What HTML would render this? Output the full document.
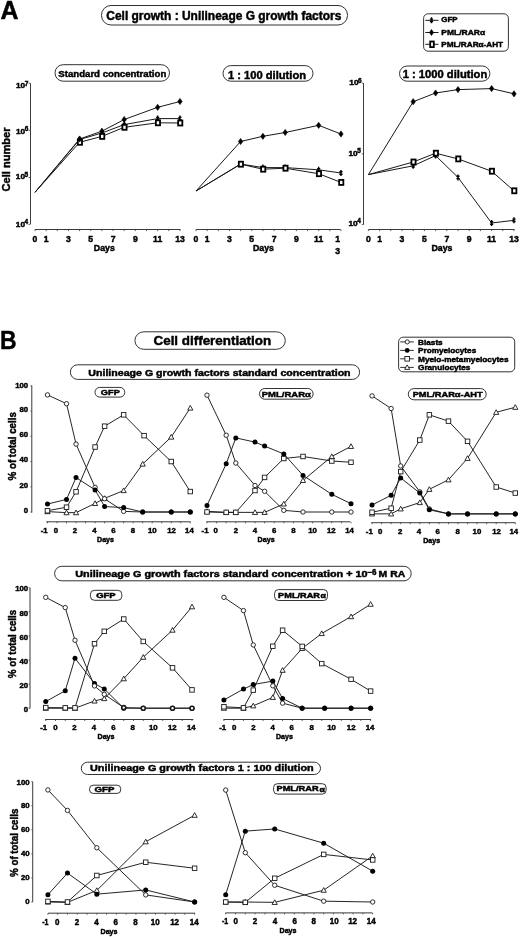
<!DOCTYPE html>
<html><head><meta charset="utf-8"><title>Figure</title>
<style>
html,body{margin:0;padding:0;background:#fff;}
body{width:520px;height:937px;overflow:hidden;}
svg{display:block;font-family:"Liberation Sans",sans-serif;}
text{stroke:#000;stroke-width:0.45px;}
</style></head><body>
<svg width="520" height="937" viewBox="0 0 520 937">
<defs><filter id="soft" x="-2%" y="-2%" width="104%" height="104%"><feGaussianBlur stdDeviation="0.3"/></filter></defs>
<rect width="520" height="937" fill="#fff"/>
<g fill="#000" stroke-width="0" filter="url(#soft)">
<text x="0.6" y="18.7" font-size="25" font-weight="bold" textLength="18" lengthAdjust="spacingAndGlyphs">A</text>
<rect x="101.5" y="5.5" width="246" height="19.5" rx="9.5" fill="#fff" stroke="#333" stroke-width="1"/>
<text x="106.3" y="20.2" font-size="12" font-weight="bold" textLength="235" lengthAdjust="spacingAndGlyphs">Cell growth : Unilineage G growth factors</text>
<rect x="423.6" y="13.8" width="84.8" height="37.4" rx="4.5" fill="#fff" stroke="#333" stroke-width="1"/>
<line x1="425.3" y1="20.3" x2="438.5" y2="20.3" stroke="#1a1a1a" stroke-width="1"/>
<path d="M431.5,17.3V23.3M429.9,19.1H433.1M429.9,21.5H433.1" stroke="#000" stroke-width="1.4" fill="none"/>
<text x="441.3" y="22.2" font-size="8" font-weight="bold" textLength="16.3" lengthAdjust="spacingAndGlyphs">GFP</text>
<line x1="425.3" y1="32.5" x2="438.5" y2="32.5" stroke="#1a1a1a" stroke-width="1"/>
<polygon points="431.5,29.5 433.6,32.5 431.5,35.5 429.4,32.5" fill="#000" stroke="#000" stroke-width="0.6" stroke-linejoin="round"/>
<text x="441.3" y="34.9" font-size="8" font-weight="bold" textLength="43.8" lengthAdjust="spacingAndGlyphs">PML/RAR&#945;</text>
<line x1="425.3" y1="44.3" x2="438.5" y2="44.3" stroke="#1a1a1a" stroke-width="1"/>
<rect x="430.2" y="41.5" width="3.6" height="5.6" fill="#fff" stroke="#000" stroke-width="1.8"/>
<text x="441.3" y="47" font-size="8" font-weight="bold" textLength="61.8" lengthAdjust="spacingAndGlyphs">PML/RAR&#945;-AHT</text>
<rect x="55" y="64.7" width="114.5" height="16.5" rx="8.2" fill="#fff" stroke="#333" stroke-width="1"/>
<text x="58.3" y="77" font-size="9.6" font-weight="bold" textLength="108" lengthAdjust="spacingAndGlyphs">Standard concentration</text>
<line x1="30.5" y1="83.2" x2="30.5" y2="224.4" stroke="#3a3a3a" stroke-width="1"/>
<line x1="28.5" y1="83.2" x2="30" y2="83.2" stroke="#3a3a3a" stroke-width="0.8"/>
<line x1="28.5" y1="130.3" x2="30" y2="130.3" stroke="#3a3a3a" stroke-width="0.8"/>
<line x1="28.5" y1="177.5" x2="30" y2="177.5" stroke="#3a3a3a" stroke-width="0.8"/>
<line x1="28.5" y1="224.4" x2="30" y2="224.4" stroke="#3a3a3a" stroke-width="0.8"/>
<text x="25.2" y="88.4" font-size="7.8" font-weight="bold" text-anchor="end" textLength="9.2" lengthAdjust="spacingAndGlyphs">10</text>
<text x="24.8" y="86" font-size="6.6" font-weight="bold" textLength="3.6" lengthAdjust="spacingAndGlyphs">7</text>
<text x="25.2" y="133.8" font-size="7.8" font-weight="bold" text-anchor="end" textLength="9.2" lengthAdjust="spacingAndGlyphs">10</text>
<text x="24.8" y="131.4" font-size="6.6" font-weight="bold" textLength="3.6" lengthAdjust="spacingAndGlyphs">6</text>
<text x="25" y="179.2" font-size="7.8" font-weight="bold" text-anchor="end" textLength="9.2" lengthAdjust="spacingAndGlyphs">10</text>
<text x="24.6" y="176.8" font-size="6.6" font-weight="bold" textLength="3.6" lengthAdjust="spacingAndGlyphs">5</text>
<text x="25" y="226.5" font-size="7.8" font-weight="bold" text-anchor="end" textLength="9.2" lengthAdjust="spacingAndGlyphs">10</text>
<text x="24.6" y="224.1" font-size="6.6" font-weight="bold" textLength="3.6" lengthAdjust="spacingAndGlyphs">4</text>
<text transform="translate(9.6,159.5) rotate(-90)" font-size="11" font-weight="bold" text-anchor="middle" textLength="64" lengthAdjust="spacingAndGlyphs">Cell number</text>
<line x1="35" y1="229.5" x2="180.4" y2="229.5" stroke="#3a3a3a" stroke-width="1"/>
<line x1="35" y1="229.5" x2="35" y2="231.1" stroke="#3a3a3a" stroke-width="0.8"/>
<line x1="46.15" y1="229.5" x2="46.15" y2="231.1" stroke="#3a3a3a" stroke-width="0.8"/>
<line x1="57.3" y1="229.5" x2="57.3" y2="231.1" stroke="#3a3a3a" stroke-width="0.8"/>
<line x1="68.45" y1="229.5" x2="68.45" y2="231.1" stroke="#3a3a3a" stroke-width="0.8"/>
<line x1="79.6" y1="229.5" x2="79.6" y2="231.1" stroke="#3a3a3a" stroke-width="0.8"/>
<line x1="90.75" y1="229.5" x2="90.75" y2="231.1" stroke="#3a3a3a" stroke-width="0.8"/>
<line x1="101.9" y1="229.5" x2="101.9" y2="231.1" stroke="#3a3a3a" stroke-width="0.8"/>
<line x1="113.05" y1="229.5" x2="113.05" y2="231.1" stroke="#3a3a3a" stroke-width="0.8"/>
<line x1="124.2" y1="229.5" x2="124.2" y2="231.1" stroke="#3a3a3a" stroke-width="0.8"/>
<line x1="135.35" y1="229.5" x2="135.35" y2="231.1" stroke="#3a3a3a" stroke-width="0.8"/>
<line x1="146.5" y1="229.5" x2="146.5" y2="231.1" stroke="#3a3a3a" stroke-width="0.8"/>
<line x1="157.65" y1="229.5" x2="157.65" y2="231.1" stroke="#3a3a3a" stroke-width="0.8"/>
<line x1="168.8" y1="229.5" x2="168.8" y2="231.1" stroke="#3a3a3a" stroke-width="0.8"/>
<line x1="179.95" y1="229.5" x2="179.95" y2="231.1" stroke="#3a3a3a" stroke-width="0.8"/>
<text x="35" y="242.2" font-size="8.6" font-weight="bold" text-anchor="middle">0</text>
<text x="46.15" y="242.2" font-size="8.6" font-weight="bold" text-anchor="middle">1</text>
<text x="68.45" y="242.2" font-size="8.6" font-weight="bold" text-anchor="middle">3</text>
<text x="90.75" y="242.2" font-size="8.6" font-weight="bold" text-anchor="middle">5</text>
<text x="113.05" y="242.2" font-size="8.6" font-weight="bold" text-anchor="middle">7</text>
<text x="135.35" y="242.2" font-size="8.6" font-weight="bold" text-anchor="middle">9</text>
<text x="157.65" y="242.2" font-size="8.6" font-weight="bold" text-anchor="middle">11</text>
<text x="179.95" y="242.2" font-size="8.6" font-weight="bold" text-anchor="middle">13</text>
<text x="104.3" y="251.3" font-size="8.8" font-weight="bold" text-anchor="middle" textLength="21" lengthAdjust="spacingAndGlyphs">Days</text>
<polyline points="35,192.3 79.6,139.5 101.9,133 124.2,124.6 157.65,118.6 179.95,118.6" fill="none" stroke="#1a1a1a" stroke-width="1" stroke-linejoin="round"/>
<polyline points="35,192.3 79.6,142.3 101.9,136.4 124.2,127.3 157.65,122.8 179.95,123" fill="none" stroke="#1a1a1a" stroke-width="1" stroke-linejoin="round"/>
<polyline points="35,192.3 79.6,139 101.9,131.2 124.2,119.5 157.65,107.3 179.95,101.5" fill="none" stroke="#1a1a1a" stroke-width="1" stroke-linejoin="round"/>
<path d="M79.6,136.5V142.5M78,138.3H81.2M78,140.7H81.2" stroke="#000" stroke-width="1.4" fill="none"/>
<path d="M101.9,130V136M100.3,131.8H103.5M100.3,134.2H103.5" stroke="#000" stroke-width="1.4" fill="none"/>
<path d="M124.2,121.6V127.6M122.6,123.4H125.8M122.6,125.8H125.8" stroke="#000" stroke-width="1.4" fill="none"/>
<path d="M157.65,115.6V121.6M156.05,117.4H159.25M156.05,119.8H159.25" stroke="#000" stroke-width="1.4" fill="none"/>
<path d="M179.95,115.6V121.6M178.35,117.4H181.55M178.35,119.8H181.55" stroke="#000" stroke-width="1.4" fill="none"/>
<rect x="77.8" y="139.8" width="4.2" height="5" fill="#fff" stroke="#000" stroke-width="1.8"/>
<rect x="100.1" y="133.9" width="4.2" height="5" fill="#fff" stroke="#000" stroke-width="1.8"/>
<rect x="122.4" y="124.8" width="4.2" height="5" fill="#fff" stroke="#000" stroke-width="1.8"/>
<rect x="155.85" y="120.3" width="4.2" height="5" fill="#fff" stroke="#000" stroke-width="1.8"/>
<rect x="178.15" y="120.5" width="4.2" height="5" fill="#fff" stroke="#000" stroke-width="1.8"/>
<polygon points="79.6,135.9 81.8,139 79.6,142.1 77.4,139" fill="#000" stroke="#000" stroke-width="0.6" stroke-linejoin="round"/>
<polygon points="101.9,128.1 104.1,131.2 101.9,134.3 99.7,131.2" fill="#000" stroke="#000" stroke-width="0.6" stroke-linejoin="round"/>
<polygon points="124.2,116.4 126.4,119.5 124.2,122.6 122,119.5" fill="#000" stroke="#000" stroke-width="0.6" stroke-linejoin="round"/>
<polygon points="157.65,104.2 159.85,107.3 157.65,110.4 155.45,107.3" fill="#000" stroke="#000" stroke-width="0.6" stroke-linejoin="round"/>
<polygon points="179.95,98.4 182.15,101.5 179.95,104.6 177.75,101.5" fill="#000" stroke="#000" stroke-width="0.6" stroke-linejoin="round"/>
<rect x="223" y="65.6" width="90" height="15.6" rx="7.8" fill="#fff" stroke="#333" stroke-width="1"/>
<text x="228" y="78.7" font-size="10.8" font-weight="bold" textLength="78" lengthAdjust="spacingAndGlyphs">1 : 100 dilution</text>
<line x1="196" y1="229.5" x2="340.5" y2="229.5" stroke="#3a3a3a" stroke-width="1"/>
<line x1="196" y1="229.5" x2="196" y2="231.1" stroke="#3a3a3a" stroke-width="0.8"/>
<line x1="207.15" y1="229.5" x2="207.15" y2="231.1" stroke="#3a3a3a" stroke-width="0.8"/>
<line x1="218.3" y1="229.5" x2="218.3" y2="231.1" stroke="#3a3a3a" stroke-width="0.8"/>
<line x1="229.45" y1="229.5" x2="229.45" y2="231.1" stroke="#3a3a3a" stroke-width="0.8"/>
<line x1="240.6" y1="229.5" x2="240.6" y2="231.1" stroke="#3a3a3a" stroke-width="0.8"/>
<line x1="251.75" y1="229.5" x2="251.75" y2="231.1" stroke="#3a3a3a" stroke-width="0.8"/>
<line x1="262.9" y1="229.5" x2="262.9" y2="231.1" stroke="#3a3a3a" stroke-width="0.8"/>
<line x1="274.05" y1="229.5" x2="274.05" y2="231.1" stroke="#3a3a3a" stroke-width="0.8"/>
<line x1="285.2" y1="229.5" x2="285.2" y2="231.1" stroke="#3a3a3a" stroke-width="0.8"/>
<line x1="296.35" y1="229.5" x2="296.35" y2="231.1" stroke="#3a3a3a" stroke-width="0.8"/>
<line x1="307.5" y1="229.5" x2="307.5" y2="231.1" stroke="#3a3a3a" stroke-width="0.8"/>
<line x1="318.65" y1="229.5" x2="318.65" y2="231.1" stroke="#3a3a3a" stroke-width="0.8"/>
<line x1="329.8" y1="229.5" x2="329.8" y2="231.1" stroke="#3a3a3a" stroke-width="0.8"/>
<line x1="340.95" y1="229.5" x2="340.95" y2="231.1" stroke="#3a3a3a" stroke-width="0.8"/>
<text x="196" y="242.2" font-size="8.6" font-weight="bold" text-anchor="middle">0</text>
<text x="207.15" y="242.2" font-size="8.6" font-weight="bold" text-anchor="middle">1</text>
<text x="229.45" y="242.2" font-size="8.6" font-weight="bold" text-anchor="middle">3</text>
<text x="251.75" y="242.2" font-size="8.6" font-weight="bold" text-anchor="middle">5</text>
<text x="274.05" y="242.2" font-size="8.6" font-weight="bold" text-anchor="middle">7</text>
<text x="296.35" y="242.2" font-size="8.6" font-weight="bold" text-anchor="middle">9</text>
<text x="318.65" y="242.2" font-size="8.6" font-weight="bold" text-anchor="middle">11</text>
<text x="337.6" y="242.2" font-size="8.6" font-weight="bold" text-anchor="middle">1</text>
<text x="337.6" y="253.5" font-size="8.6" font-weight="bold" text-anchor="middle">3</text>
<text x="263.5" y="250.5" font-size="8.8" font-weight="bold" text-anchor="middle" textLength="21" lengthAdjust="spacingAndGlyphs">Days</text>
<polyline points="196,191 240.6,164 262.9,167.6 285.2,167.6 318.65,169.8 340.95,173" fill="none" stroke="#1a1a1a" stroke-width="1" stroke-linejoin="round"/>
<polyline points="196,191 240.6,164.2 262.9,169.2 285.2,168.2 318.65,173.7 340.95,182.4" fill="none" stroke="#1a1a1a" stroke-width="1" stroke-linejoin="round"/>
<polyline points="196,191 240.6,141.5 262.9,136.3 285.2,132.5 318.65,125.3 340.95,134" fill="none" stroke="#1a1a1a" stroke-width="1" stroke-linejoin="round"/>
<path d="M240.6,161V167M239,162.8H242.2M239,165.2H242.2" stroke="#000" stroke-width="1.4" fill="none"/>
<path d="M262.9,164.6V170.6M261.3,166.4H264.5M261.3,168.8H264.5" stroke="#000" stroke-width="1.4" fill="none"/>
<path d="M285.2,164.6V170.6M283.6,166.4H286.8M283.6,168.8H286.8" stroke="#000" stroke-width="1.4" fill="none"/>
<path d="M318.65,166.8V172.8M317.05,168.6H320.25M317.05,171H320.25" stroke="#000" stroke-width="1.4" fill="none"/>
<path d="M340.95,170V176M339.35,171.8H342.55M339.35,174.2H342.55" stroke="#000" stroke-width="1.4" fill="none"/>
<rect x="238.8" y="161.7" width="4.2" height="5" fill="#fff" stroke="#000" stroke-width="1.8"/>
<rect x="261.1" y="166.7" width="4.2" height="5" fill="#fff" stroke="#000" stroke-width="1.8"/>
<rect x="283.4" y="165.7" width="4.2" height="5" fill="#fff" stroke="#000" stroke-width="1.8"/>
<rect x="316.85" y="171.2" width="4.2" height="5" fill="#fff" stroke="#000" stroke-width="1.8"/>
<rect x="339.15" y="179.9" width="4.2" height="5" fill="#fff" stroke="#000" stroke-width="1.8"/>
<polygon points="240.6,138.4 242.8,141.5 240.6,144.6 238.4,141.5" fill="#000" stroke="#000" stroke-width="0.6" stroke-linejoin="round"/>
<polygon points="262.9,133.2 265.1,136.3 262.9,139.4 260.7,136.3" fill="#000" stroke="#000" stroke-width="0.6" stroke-linejoin="round"/>
<polygon points="285.2,129.4 287.4,132.5 285.2,135.6 283,132.5" fill="#000" stroke="#000" stroke-width="0.6" stroke-linejoin="round"/>
<polygon points="318.65,122.2 320.85,125.3 318.65,128.4 316.45,125.3" fill="#000" stroke="#000" stroke-width="0.6" stroke-linejoin="round"/>
<polygon points="340.95,130.9 343.15,134 340.95,137.1 338.75,134" fill="#000" stroke="#000" stroke-width="0.6" stroke-linejoin="round"/>
<rect x="399.5" y="66" width="90.4" height="15.2" rx="7.6" fill="#fff" stroke="#333" stroke-width="1"/>
<text x="402.7" y="78" font-size="10.7" font-weight="bold" textLength="84.6" lengthAdjust="spacingAndGlyphs">1 : 1000 dilution</text>
<line x1="363.5" y1="83.1" x2="363.5" y2="224.6" stroke="#3a3a3a" stroke-width="1"/>
<line x1="361.8" y1="83.1" x2="363.3" y2="83.1" stroke="#3a3a3a" stroke-width="0.8"/>
<line x1="361.8" y1="153.9" x2="363.3" y2="153.9" stroke="#3a3a3a" stroke-width="0.8"/>
<line x1="361.8" y1="224.5" x2="363.3" y2="224.5" stroke="#3a3a3a" stroke-width="0.8"/>
<text x="358.5" y="85.4" font-size="7.8" font-weight="bold" text-anchor="end" textLength="9.2" lengthAdjust="spacingAndGlyphs">10</text>
<text x="358.1" y="83" font-size="6.6" font-weight="bold" textLength="3.6" lengthAdjust="spacingAndGlyphs">6</text>
<text x="357.6" y="155.8" font-size="7.8" font-weight="bold" text-anchor="end" textLength="9.2" lengthAdjust="spacingAndGlyphs">10</text>
<text x="357.2" y="153.4" font-size="6.6" font-weight="bold" textLength="3.6" lengthAdjust="spacingAndGlyphs">5</text>
<text x="357.6" y="225.7" font-size="7.8" font-weight="bold" text-anchor="end" textLength="9.2" lengthAdjust="spacingAndGlyphs">10</text>
<text x="357.2" y="223.3" font-size="6.6" font-weight="bold" textLength="3.6" lengthAdjust="spacingAndGlyphs">4</text>
<line x1="368.4" y1="229.5" x2="514.5" y2="229.5" stroke="#3a3a3a" stroke-width="1"/>
<line x1="368.4" y1="229.5" x2="368.4" y2="231.1" stroke="#3a3a3a" stroke-width="0.8"/>
<line x1="379.6" y1="229.5" x2="379.6" y2="231.1" stroke="#3a3a3a" stroke-width="0.8"/>
<line x1="390.8" y1="229.5" x2="390.8" y2="231.1" stroke="#3a3a3a" stroke-width="0.8"/>
<line x1="402" y1="229.5" x2="402" y2="231.1" stroke="#3a3a3a" stroke-width="0.8"/>
<line x1="413.2" y1="229.5" x2="413.2" y2="231.1" stroke="#3a3a3a" stroke-width="0.8"/>
<line x1="424.4" y1="229.5" x2="424.4" y2="231.1" stroke="#3a3a3a" stroke-width="0.8"/>
<line x1="435.6" y1="229.5" x2="435.6" y2="231.1" stroke="#3a3a3a" stroke-width="0.8"/>
<line x1="446.8" y1="229.5" x2="446.8" y2="231.1" stroke="#3a3a3a" stroke-width="0.8"/>
<line x1="458" y1="229.5" x2="458" y2="231.1" stroke="#3a3a3a" stroke-width="0.8"/>
<line x1="469.2" y1="229.5" x2="469.2" y2="231.1" stroke="#3a3a3a" stroke-width="0.8"/>
<line x1="480.4" y1="229.5" x2="480.4" y2="231.1" stroke="#3a3a3a" stroke-width="0.8"/>
<line x1="491.6" y1="229.5" x2="491.6" y2="231.1" stroke="#3a3a3a" stroke-width="0.8"/>
<line x1="502.8" y1="229.5" x2="502.8" y2="231.1" stroke="#3a3a3a" stroke-width="0.8"/>
<line x1="514" y1="229.5" x2="514" y2="231.1" stroke="#3a3a3a" stroke-width="0.8"/>
<text x="368.4" y="242.2" font-size="8.6" font-weight="bold" text-anchor="middle">0</text>
<text x="379.6" y="242.2" font-size="8.6" font-weight="bold" text-anchor="middle">1</text>
<text x="402" y="242.2" font-size="8.6" font-weight="bold" text-anchor="middle">3</text>
<text x="424.4" y="242.2" font-size="8.6" font-weight="bold" text-anchor="middle">5</text>
<text x="446.8" y="242.2" font-size="8.6" font-weight="bold" text-anchor="middle">7</text>
<text x="469.2" y="242.2" font-size="8.6" font-weight="bold" text-anchor="middle">9</text>
<text x="491.6" y="242.2" font-size="8.6" font-weight="bold" text-anchor="middle">11</text>
<text x="514" y="242.2" font-size="8.6" font-weight="bold" text-anchor="middle">13</text>
<text x="442" y="250.8" font-size="8.8" font-weight="bold" text-anchor="middle" textLength="21" lengthAdjust="spacingAndGlyphs">Days</text>
<polyline points="368.4,174.6 413.2,165.8 435.6,155.6 458,177.4 491.6,223 514,220.3" fill="none" stroke="#1a1a1a" stroke-width="1" stroke-linejoin="round"/>
<polyline points="368.4,174.6 413.2,162 435.6,153.2 458,158.9 491.6,171.2 514,190.8" fill="none" stroke="#1a1a1a" stroke-width="1" stroke-linejoin="round"/>
<polyline points="368.4,174.6 413.2,101.7 435.6,93 458,89.6 491.6,88.6 514,93.8" fill="none" stroke="#1a1a1a" stroke-width="1" stroke-linejoin="round"/>
<path d="M413.2,162.8V168.8M411.6,164.6H414.8M411.6,167H414.8" stroke="#000" stroke-width="1.4" fill="none"/>
<path d="M435.6,152.6V158.6M434,154.4H437.2M434,156.8H437.2" stroke="#000" stroke-width="1.4" fill="none"/>
<path d="M458,174.4V180.4M456.4,176.2H459.6M456.4,178.6H459.6" stroke="#000" stroke-width="1.4" fill="none"/>
<path d="M491.6,220V226M490,221.8H493.2M490,224.2H493.2" stroke="#000" stroke-width="1.4" fill="none"/>
<path d="M514,217.3V223.3M512.4,219.1H515.6M512.4,221.5H515.6" stroke="#000" stroke-width="1.4" fill="none"/>
<rect x="411.4" y="159.5" width="4.2" height="5" fill="#fff" stroke="#000" stroke-width="1.8"/>
<rect x="433.8" y="150.7" width="4.2" height="5" fill="#fff" stroke="#000" stroke-width="1.8"/>
<rect x="456.2" y="156.4" width="4.2" height="5" fill="#fff" stroke="#000" stroke-width="1.8"/>
<rect x="489.8" y="168.7" width="4.2" height="5" fill="#fff" stroke="#000" stroke-width="1.8"/>
<rect x="512.2" y="188.3" width="4.2" height="5" fill="#fff" stroke="#000" stroke-width="1.8"/>
<polygon points="413.2,98.6 415.4,101.7 413.2,104.8 411,101.7" fill="#000" stroke="#000" stroke-width="0.6" stroke-linejoin="round"/>
<polygon points="435.6,89.9 437.8,93 435.6,96.1 433.4,93" fill="#000" stroke="#000" stroke-width="0.6" stroke-linejoin="round"/>
<polygon points="458,86.5 460.2,89.6 458,92.7 455.8,89.6" fill="#000" stroke="#000" stroke-width="0.6" stroke-linejoin="round"/>
<polygon points="491.6,85.5 493.8,88.6 491.6,91.7 489.4,88.6" fill="#000" stroke="#000" stroke-width="0.6" stroke-linejoin="round"/>
<polygon points="514,90.7 516.2,93.8 514,96.9 511.8,93.8" fill="#000" stroke="#000" stroke-width="0.6" stroke-linejoin="round"/>
<text x="0" y="348.9" font-size="25.5" font-weight="bold" textLength="16.6" lengthAdjust="spacingAndGlyphs">B</text>
<rect x="134.9" y="331.8" width="150.4" height="17.5" rx="9" fill="#fff" stroke="#333" stroke-width="1"/>
<text x="153.5" y="345.3" font-size="12.4" font-weight="bold" textLength="117.7" lengthAdjust="spacingAndGlyphs">Cell differentiation</text>
<rect x="398.6" y="337.2" width="116.1" height="34.6" rx="4.5" fill="#fff" stroke="#333" stroke-width="1"/>
<line x1="400.2" y1="341.9" x2="413.8" y2="341.9" stroke="#1a1a1a" stroke-width="0.9"/>
<circle cx="407.2" cy="341.9" r="2.1" fill="#fff" stroke="#1a1a1a" stroke-width="0.9"/>
<text x="418" y="344.9" font-size="7.6" font-weight="bold" textLength="24.7" lengthAdjust="spacingAndGlyphs">Blasts</text>
<line x1="400.2" y1="350.4" x2="413.8" y2="350.4" stroke="#1a1a1a" stroke-width="0.9"/>
<circle cx="407.2" cy="350.4" r="2.4" fill="#000"/>
<text x="418" y="353" font-size="7.6" font-weight="bold" textLength="58.2" lengthAdjust="spacingAndGlyphs">Promyelocytes</text>
<line x1="400.2" y1="358.8" x2="413.8" y2="358.8" stroke="#1a1a1a" stroke-width="0.9"/>
<rect x="404.9" y="356.5" width="4.6" height="4.6" fill="#fff" stroke="#1a1a1a" stroke-width="0.9"/>
<text x="418" y="362" font-size="7.6" font-weight="bold" textLength="90.5" lengthAdjust="spacingAndGlyphs">Myelo-metamyelocytes</text>
<line x1="400.2" y1="367.4" x2="413.8" y2="367.4" stroke="#1a1a1a" stroke-width="0.9"/>
<polygon points="407.2,364.9 409.7,369.4 404.7,369.4" fill="#fff" stroke="#1a1a1a" stroke-width="0.9"/>
<text x="418" y="370.3" font-size="7.6" font-weight="bold" textLength="52.4" lengthAdjust="spacingAndGlyphs">Granulocytes</text>
<rect x="70.4" y="364.8" width="289.2" height="14.6" rx="7.2" fill="#fff" stroke="#333" stroke-width="1"/>
<text x="88.3" y="375.9" font-size="9.3" font-weight="bold" textLength="262.3" lengthAdjust="spacingAndGlyphs">Unilineage G growth factors standard concentration</text>
<line x1="31.8" y1="385.5" x2="31.8" y2="512.6" stroke="#3a3a3a" stroke-width="1"/>
<line x1="30.4" y1="385.8" x2="31.8" y2="385.8" stroke="#3a3a3a" stroke-width="0.8"/>
<line x1="30.4" y1="411.04" x2="31.8" y2="411.04" stroke="#3a3a3a" stroke-width="0.8"/>
<line x1="30.4" y1="436.28" x2="31.8" y2="436.28" stroke="#3a3a3a" stroke-width="0.8"/>
<line x1="30.4" y1="461.52" x2="31.8" y2="461.52" stroke="#3a3a3a" stroke-width="0.8"/>
<line x1="30.4" y1="486.76" x2="31.8" y2="486.76" stroke="#3a3a3a" stroke-width="0.8"/>
<line x1="30.4" y1="512" x2="31.8" y2="512" stroke="#3a3a3a" stroke-width="0.8"/>
<text x="28.2" y="387.8" font-size="7.8" font-weight="bold" text-anchor="end">100</text>
<text x="28.2" y="411.8" font-size="7.8" font-weight="bold" text-anchor="end">80</text>
<text x="28.2" y="437" font-size="7.8" font-weight="bold" text-anchor="end">60</text>
<text x="28.2" y="462.3" font-size="7.8" font-weight="bold" text-anchor="end">40</text>
<text x="28.2" y="487.5" font-size="7.8" font-weight="bold" text-anchor="end">20</text>
<text x="28.2" y="512.8" font-size="7.8" font-weight="bold" text-anchor="end">0</text>
<text transform="translate(15.6,446.3) rotate(-90)" font-size="10.4" font-weight="bold" text-anchor="middle" textLength="68.3" lengthAdjust="spacingAndGlyphs">% of total cells</text>
<rect x="95" y="387.4" width="29.8" height="9.7" rx="4.8" fill="#fff" stroke="#333" stroke-width="1"/>
<text x="100.8" y="394.9" font-size="8" font-weight="bold" textLength="19" lengthAdjust="spacingAndGlyphs">GFP</text>
<line x1="46.3" y1="521.8" x2="190.6" y2="521.8" stroke="#3a3a3a" stroke-width="1"/>
<line x1="47.48" y1="521.8" x2="47.48" y2="523.3" stroke="#3a3a3a" stroke-width="0.8"/>
<line x1="57" y1="521.8" x2="57" y2="523.3" stroke="#3a3a3a" stroke-width="0.8"/>
<line x1="66.52" y1="521.8" x2="66.52" y2="523.3" stroke="#3a3a3a" stroke-width="0.8"/>
<line x1="76.04" y1="521.8" x2="76.04" y2="523.3" stroke="#3a3a3a" stroke-width="0.8"/>
<line x1="85.56" y1="521.8" x2="85.56" y2="523.3" stroke="#3a3a3a" stroke-width="0.8"/>
<line x1="95.08" y1="521.8" x2="95.08" y2="523.3" stroke="#3a3a3a" stroke-width="0.8"/>
<line x1="104.6" y1="521.8" x2="104.6" y2="523.3" stroke="#3a3a3a" stroke-width="0.8"/>
<line x1="114.12" y1="521.8" x2="114.12" y2="523.3" stroke="#3a3a3a" stroke-width="0.8"/>
<line x1="123.64" y1="521.8" x2="123.64" y2="523.3" stroke="#3a3a3a" stroke-width="0.8"/>
<line x1="133.16" y1="521.8" x2="133.16" y2="523.3" stroke="#3a3a3a" stroke-width="0.8"/>
<line x1="142.68" y1="521.8" x2="142.68" y2="523.3" stroke="#3a3a3a" stroke-width="0.8"/>
<line x1="152.2" y1="521.8" x2="152.2" y2="523.3" stroke="#3a3a3a" stroke-width="0.8"/>
<line x1="161.72" y1="521.8" x2="161.72" y2="523.3" stroke="#3a3a3a" stroke-width="0.8"/>
<line x1="171.24" y1="521.8" x2="171.24" y2="523.3" stroke="#3a3a3a" stroke-width="0.8"/>
<line x1="180.76" y1="521.8" x2="180.76" y2="523.3" stroke="#3a3a3a" stroke-width="0.8"/>
<line x1="190.28" y1="521.8" x2="190.28" y2="523.3" stroke="#3a3a3a" stroke-width="0.8"/>
<text x="44.2" y="532.8" font-size="7.8" font-weight="bold" text-anchor="middle">-1</text>
<text x="55.9" y="532.8" font-size="7.8" font-weight="bold" text-anchor="middle">0</text>
<text x="74.9" y="532.8" font-size="7.8" font-weight="bold" text-anchor="middle">2</text>
<text x="94.3" y="532.8" font-size="7.8" font-weight="bold" text-anchor="middle">4</text>
<text x="113.3" y="532.8" font-size="7.8" font-weight="bold" text-anchor="middle">6</text>
<text x="133" y="532.8" font-size="7.8" font-weight="bold" text-anchor="middle">8</text>
<text x="152.3" y="532.8" font-size="7.8" font-weight="bold" text-anchor="middle">10</text>
<text x="171.5" y="532.8" font-size="7.8" font-weight="bold" text-anchor="middle">12</text>
<text x="189.4" y="532.8" font-size="7.8" font-weight="bold" text-anchor="middle">14</text>
<text x="105.5" y="541.6" font-size="7.4" font-weight="bold" text-anchor="middle" textLength="17" lengthAdjust="spacingAndGlyphs">Days</text>
<polyline points="47.48,511.62 66.52,512.63 76.04,512.63 95.08,503.42 104.6,498.37 123.64,490.55 142.68,464.04 171.24,437.04 190.28,408.01" fill="none" stroke="#1a1a1a" stroke-width="0.95" stroke-linejoin="round"/>
<polyline points="47.48,510.74 66.52,507.2 76.04,491.81 95.08,447.01 104.6,426.18 123.64,414.83 144.11,435.65 171.24,461.52 190.28,491.56" fill="none" stroke="#1a1a1a" stroke-width="0.95" stroke-linejoin="round"/>
<polyline points="47.48,394.89 66.52,403.72 76.04,444.1 95.08,487.39 104.6,498.75 123.64,511.37 142.68,512 171.24,512 190.28,512" fill="none" stroke="#1a1a1a" stroke-width="0.95" stroke-linejoin="round"/>
<polyline points="47.48,504.05 66.52,499.38 76.04,477.55 95.08,489.92 104.6,506.57 123.64,507.58 142.68,512 171.24,512 190.28,512" fill="none" stroke="#1a1a1a" stroke-width="0.95" stroke-linejoin="round"/>
<polygon points="47.48,509.02 50.08,513.7 44.88,513.7" fill="#fff" stroke="#1a1a1a" stroke-width="0.9"/>
<polygon points="66.52,510.03 69.12,514.71 63.92,514.71" fill="#fff" stroke="#1a1a1a" stroke-width="0.9"/>
<polygon points="76.04,510.03 78.64,514.71 73.44,514.71" fill="#fff" stroke="#1a1a1a" stroke-width="0.9"/>
<polygon points="95.08,500.82 97.68,505.5 92.48,505.5" fill="#fff" stroke="#1a1a1a" stroke-width="0.9"/>
<polygon points="104.6,495.77 107.2,500.45 102,500.45" fill="#fff" stroke="#1a1a1a" stroke-width="0.9"/>
<polygon points="123.64,487.95 126.24,492.63 121.04,492.63" fill="#fff" stroke="#1a1a1a" stroke-width="0.9"/>
<polygon points="142.68,461.44 145.28,466.12 140.08,466.12" fill="#fff" stroke="#1a1a1a" stroke-width="0.9"/>
<polygon points="171.24,434.44 173.84,439.12 168.64,439.12" fill="#fff" stroke="#1a1a1a" stroke-width="0.9"/>
<polygon points="190.28,405.41 192.88,410.09 187.68,410.09" fill="#fff" stroke="#1a1a1a" stroke-width="0.9"/>
<rect x="45.23" y="508.49" width="4.5" height="4.5" fill="#fff" stroke="#1a1a1a" stroke-width="0.9"/>
<rect x="64.27" y="504.95" width="4.5" height="4.5" fill="#fff" stroke="#1a1a1a" stroke-width="0.9"/>
<rect x="73.79" y="489.56" width="4.5" height="4.5" fill="#fff" stroke="#1a1a1a" stroke-width="0.9"/>
<rect x="92.83" y="444.76" width="4.5" height="4.5" fill="#fff" stroke="#1a1a1a" stroke-width="0.9"/>
<rect x="102.35" y="423.93" width="4.5" height="4.5" fill="#fff" stroke="#1a1a1a" stroke-width="0.9"/>
<rect x="121.39" y="412.58" width="4.5" height="4.5" fill="#fff" stroke="#1a1a1a" stroke-width="0.9"/>
<rect x="141.86" y="433.4" width="4.5" height="4.5" fill="#fff" stroke="#1a1a1a" stroke-width="0.9"/>
<rect x="168.99" y="459.27" width="4.5" height="4.5" fill="#fff" stroke="#1a1a1a" stroke-width="0.9"/>
<rect x="188.03" y="489.31" width="4.5" height="4.5" fill="#fff" stroke="#1a1a1a" stroke-width="0.9"/>
<circle cx="47.48" cy="394.89" r="2.2" fill="#fff" stroke="#1a1a1a" stroke-width="0.9"/>
<circle cx="66.52" cy="403.72" r="2.2" fill="#fff" stroke="#1a1a1a" stroke-width="0.9"/>
<circle cx="76.04" cy="444.1" r="2.2" fill="#fff" stroke="#1a1a1a" stroke-width="0.9"/>
<circle cx="95.08" cy="487.39" r="2.2" fill="#fff" stroke="#1a1a1a" stroke-width="0.9"/>
<circle cx="104.6" cy="498.75" r="2.2" fill="#fff" stroke="#1a1a1a" stroke-width="0.9"/>
<circle cx="123.64" cy="511.37" r="2.2" fill="#fff" stroke="#1a1a1a" stroke-width="0.9"/>
<circle cx="142.68" cy="512" r="2.2" fill="#fff" stroke="#1a1a1a" stroke-width="0.9"/>
<circle cx="171.24" cy="512" r="2.2" fill="#fff" stroke="#1a1a1a" stroke-width="0.9"/>
<circle cx="190.28" cy="512" r="2.2" fill="#fff" stroke="#1a1a1a" stroke-width="0.9"/>
<circle cx="47.48" cy="504.05" r="2.5" fill="#000"/>
<circle cx="66.52" cy="499.38" r="2.5" fill="#000"/>
<circle cx="76.04" cy="477.55" r="2.5" fill="#000"/>
<circle cx="95.08" cy="489.92" r="2.5" fill="#000"/>
<circle cx="104.6" cy="506.57" r="2.5" fill="#000"/>
<circle cx="123.64" cy="507.58" r="2.5" fill="#000"/>
<circle cx="142.68" cy="512" r="2.5" fill="#000"/>
<circle cx="171.24" cy="512" r="2.5" fill="#000"/>
<circle cx="190.28" cy="512" r="2.5" fill="#000"/>
<rect x="259.5" y="388.5" width="53.6" height="10.7" rx="5.3" fill="#fff" stroke="#333" stroke-width="1"/>
<text x="261.8" y="396.6" font-size="8" font-weight="bold" textLength="49" lengthAdjust="spacingAndGlyphs">PML/RAR&#945;</text>
<line x1="206.3" y1="521.8" x2="350.3" y2="521.8" stroke="#3a3a3a" stroke-width="1"/>
<line x1="207" y1="521.8" x2="207" y2="523.3" stroke="#3a3a3a" stroke-width="0.8"/>
<line x1="216.6" y1="521.8" x2="216.6" y2="523.3" stroke="#3a3a3a" stroke-width="0.8"/>
<line x1="226.2" y1="521.8" x2="226.2" y2="523.3" stroke="#3a3a3a" stroke-width="0.8"/>
<line x1="235.8" y1="521.8" x2="235.8" y2="523.3" stroke="#3a3a3a" stroke-width="0.8"/>
<line x1="245.4" y1="521.8" x2="245.4" y2="523.3" stroke="#3a3a3a" stroke-width="0.8"/>
<line x1="255" y1="521.8" x2="255" y2="523.3" stroke="#3a3a3a" stroke-width="0.8"/>
<line x1="264.6" y1="521.8" x2="264.6" y2="523.3" stroke="#3a3a3a" stroke-width="0.8"/>
<line x1="274.2" y1="521.8" x2="274.2" y2="523.3" stroke="#3a3a3a" stroke-width="0.8"/>
<line x1="283.8" y1="521.8" x2="283.8" y2="523.3" stroke="#3a3a3a" stroke-width="0.8"/>
<line x1="293.4" y1="521.8" x2="293.4" y2="523.3" stroke="#3a3a3a" stroke-width="0.8"/>
<line x1="303" y1="521.8" x2="303" y2="523.3" stroke="#3a3a3a" stroke-width="0.8"/>
<line x1="312.6" y1="521.8" x2="312.6" y2="523.3" stroke="#3a3a3a" stroke-width="0.8"/>
<line x1="322.2" y1="521.8" x2="322.2" y2="523.3" stroke="#3a3a3a" stroke-width="0.8"/>
<line x1="331.8" y1="521.8" x2="331.8" y2="523.3" stroke="#3a3a3a" stroke-width="0.8"/>
<line x1="341.4" y1="521.8" x2="341.4" y2="523.3" stroke="#3a3a3a" stroke-width="0.8"/>
<line x1="351" y1="521.8" x2="351" y2="523.3" stroke="#3a3a3a" stroke-width="0.8"/>
<text x="205" y="532.8" font-size="7.8" font-weight="bold" text-anchor="middle">-1</text>
<text x="215.7" y="532.8" font-size="7.8" font-weight="bold" text-anchor="middle">0</text>
<text x="236" y="532.8" font-size="7.8" font-weight="bold" text-anchor="middle">2</text>
<text x="255" y="532.8" font-size="7.8" font-weight="bold" text-anchor="middle">4</text>
<text x="274.1" y="532.8" font-size="7.8" font-weight="bold" text-anchor="middle">6</text>
<text x="293.5" y="532.8" font-size="7.8" font-weight="bold" text-anchor="middle">8</text>
<text x="312.6" y="532.8" font-size="7.8" font-weight="bold" text-anchor="middle">10</text>
<text x="331.3" y="532.8" font-size="7.8" font-weight="bold" text-anchor="middle">12</text>
<text x="349.6" y="532.8" font-size="7.8" font-weight="bold" text-anchor="middle">14</text>
<text x="266.1" y="541.8" font-size="7.4" font-weight="bold" text-anchor="middle" textLength="17" lengthAdjust="spacingAndGlyphs">Days</text>
<polyline points="207,511.37 226.2,512.38 235.8,512.38 255,512.38 264.6,512.38 283.8,503.92 303,480.45 331.8,456.47 351,446.38" fill="none" stroke="#1a1a1a" stroke-width="0.95" stroke-linejoin="round"/>
<polyline points="207,512 226.2,512.38 235.8,512.38 255,490.55 264.6,477.42 283.8,458.49 303,456.47 331.8,461.02 351,462.28" fill="none" stroke="#1a1a1a" stroke-width="0.95" stroke-linejoin="round"/>
<polyline points="207,395.14 226.2,435.27 235.8,463.03 255,485.5 264.6,491.3 283.8,510.36 303,512 331.8,512 351,512" fill="none" stroke="#1a1a1a" stroke-width="0.95" stroke-linejoin="round"/>
<polyline points="207,505.44 226.2,463.79 235.8,437.92 255,442.09 264.6,446.12 283.8,453.95 303,475.4 331.8,494.33 351,503.67" fill="none" stroke="#1a1a1a" stroke-width="0.95" stroke-linejoin="round"/>
<polygon points="207,508.77 209.6,513.45 204.4,513.45" fill="#fff" stroke="#1a1a1a" stroke-width="0.9"/>
<polygon points="226.2,509.78 228.8,514.46 223.6,514.46" fill="#fff" stroke="#1a1a1a" stroke-width="0.9"/>
<polygon points="235.8,509.78 238.4,514.46 233.2,514.46" fill="#fff" stroke="#1a1a1a" stroke-width="0.9"/>
<polygon points="255,509.78 257.6,514.46 252.4,514.46" fill="#fff" stroke="#1a1a1a" stroke-width="0.9"/>
<polygon points="264.6,509.78 267.2,514.46 262,514.46" fill="#fff" stroke="#1a1a1a" stroke-width="0.9"/>
<polygon points="283.8,501.32 286.4,506 281.2,506" fill="#fff" stroke="#1a1a1a" stroke-width="0.9"/>
<polygon points="303,477.85 305.6,482.53 300.4,482.53" fill="#fff" stroke="#1a1a1a" stroke-width="0.9"/>
<polygon points="331.8,453.87 334.4,458.55 329.2,458.55" fill="#fff" stroke="#1a1a1a" stroke-width="0.9"/>
<polygon points="351,443.78 353.6,448.46 348.4,448.46" fill="#fff" stroke="#1a1a1a" stroke-width="0.9"/>
<rect x="204.75" y="509.75" width="4.5" height="4.5" fill="#fff" stroke="#1a1a1a" stroke-width="0.9"/>
<rect x="223.95" y="510.13" width="4.5" height="4.5" fill="#fff" stroke="#1a1a1a" stroke-width="0.9"/>
<rect x="233.55" y="510.13" width="4.5" height="4.5" fill="#fff" stroke="#1a1a1a" stroke-width="0.9"/>
<rect x="252.75" y="488.3" width="4.5" height="4.5" fill="#fff" stroke="#1a1a1a" stroke-width="0.9"/>
<rect x="262.35" y="475.17" width="4.5" height="4.5" fill="#fff" stroke="#1a1a1a" stroke-width="0.9"/>
<rect x="281.55" y="456.24" width="4.5" height="4.5" fill="#fff" stroke="#1a1a1a" stroke-width="0.9"/>
<rect x="300.75" y="454.22" width="4.5" height="4.5" fill="#fff" stroke="#1a1a1a" stroke-width="0.9"/>
<rect x="329.55" y="458.77" width="4.5" height="4.5" fill="#fff" stroke="#1a1a1a" stroke-width="0.9"/>
<rect x="348.75" y="460.03" width="4.5" height="4.5" fill="#fff" stroke="#1a1a1a" stroke-width="0.9"/>
<circle cx="207" cy="395.14" r="2.2" fill="#fff" stroke="#1a1a1a" stroke-width="0.9"/>
<circle cx="226.2" cy="435.27" r="2.2" fill="#fff" stroke="#1a1a1a" stroke-width="0.9"/>
<circle cx="235.8" cy="463.03" r="2.2" fill="#fff" stroke="#1a1a1a" stroke-width="0.9"/>
<circle cx="255" cy="485.5" r="2.2" fill="#fff" stroke="#1a1a1a" stroke-width="0.9"/>
<circle cx="264.6" cy="491.3" r="2.2" fill="#fff" stroke="#1a1a1a" stroke-width="0.9"/>
<circle cx="283.8" cy="510.36" r="2.2" fill="#fff" stroke="#1a1a1a" stroke-width="0.9"/>
<circle cx="303" cy="512" r="2.2" fill="#fff" stroke="#1a1a1a" stroke-width="0.9"/>
<circle cx="331.8" cy="512" r="2.2" fill="#fff" stroke="#1a1a1a" stroke-width="0.9"/>
<circle cx="351" cy="512" r="2.2" fill="#fff" stroke="#1a1a1a" stroke-width="0.9"/>
<circle cx="207" cy="505.44" r="2.5" fill="#000"/>
<circle cx="226.2" cy="463.79" r="2.5" fill="#000"/>
<circle cx="235.8" cy="437.92" r="2.5" fill="#000"/>
<circle cx="255" cy="442.09" r="2.5" fill="#000"/>
<circle cx="264.6" cy="446.12" r="2.5" fill="#000"/>
<circle cx="283.8" cy="453.95" r="2.5" fill="#000"/>
<circle cx="303" cy="475.4" r="2.5" fill="#000"/>
<circle cx="331.8" cy="494.33" r="2.5" fill="#000"/>
<circle cx="351" cy="503.67" r="2.5" fill="#000"/>
<rect x="408.3" y="388.6" width="77.9" height="11.2" rx="5.6" fill="#fff" stroke="#333" stroke-width="1"/>
<text x="412.7" y="397.3" font-size="8" font-weight="bold" textLength="70" lengthAdjust="spacingAndGlyphs">PML/RAR&#945;-AHT</text>
<line x1="371.3" y1="522.7" x2="515.4" y2="522.7" stroke="#3a3a3a" stroke-width="1"/>
<line x1="372.05" y1="522.7" x2="372.05" y2="524.2" stroke="#3a3a3a" stroke-width="0.8"/>
<line x1="381.6" y1="522.7" x2="381.6" y2="524.2" stroke="#3a3a3a" stroke-width="0.8"/>
<line x1="391.15" y1="522.7" x2="391.15" y2="524.2" stroke="#3a3a3a" stroke-width="0.8"/>
<line x1="400.7" y1="522.7" x2="400.7" y2="524.2" stroke="#3a3a3a" stroke-width="0.8"/>
<line x1="410.25" y1="522.7" x2="410.25" y2="524.2" stroke="#3a3a3a" stroke-width="0.8"/>
<line x1="419.8" y1="522.7" x2="419.8" y2="524.2" stroke="#3a3a3a" stroke-width="0.8"/>
<line x1="429.35" y1="522.7" x2="429.35" y2="524.2" stroke="#3a3a3a" stroke-width="0.8"/>
<line x1="438.9" y1="522.7" x2="438.9" y2="524.2" stroke="#3a3a3a" stroke-width="0.8"/>
<line x1="448.45" y1="522.7" x2="448.45" y2="524.2" stroke="#3a3a3a" stroke-width="0.8"/>
<line x1="458" y1="522.7" x2="458" y2="524.2" stroke="#3a3a3a" stroke-width="0.8"/>
<line x1="467.55" y1="522.7" x2="467.55" y2="524.2" stroke="#3a3a3a" stroke-width="0.8"/>
<line x1="477.1" y1="522.7" x2="477.1" y2="524.2" stroke="#3a3a3a" stroke-width="0.8"/>
<line x1="486.65" y1="522.7" x2="486.65" y2="524.2" stroke="#3a3a3a" stroke-width="0.8"/>
<line x1="496.2" y1="522.7" x2="496.2" y2="524.2" stroke="#3a3a3a" stroke-width="0.8"/>
<line x1="505.75" y1="522.7" x2="505.75" y2="524.2" stroke="#3a3a3a" stroke-width="0.8"/>
<line x1="515.3" y1="522.7" x2="515.3" y2="524.2" stroke="#3a3a3a" stroke-width="0.8"/>
<text x="369.3" y="534.2" font-size="7.8" font-weight="bold" text-anchor="middle">-1</text>
<text x="380.2" y="534.2" font-size="7.8" font-weight="bold" text-anchor="middle">0</text>
<text x="400.1" y="534.2" font-size="7.8" font-weight="bold" text-anchor="middle">2</text>
<text x="418.8" y="534.2" font-size="7.8" font-weight="bold" text-anchor="middle">4</text>
<text x="437.6" y="534.2" font-size="7.8" font-weight="bold" text-anchor="middle">6</text>
<text x="457.7" y="534.2" font-size="7.8" font-weight="bold" text-anchor="middle">8</text>
<text x="476.9" y="534.2" font-size="7.8" font-weight="bold" text-anchor="middle">10</text>
<text x="496.6" y="534.2" font-size="7.8" font-weight="bold" text-anchor="middle">12</text>
<text x="513.8" y="534.2" font-size="7.8" font-weight="bold" text-anchor="middle">14</text>
<text x="431.7" y="542.7" font-size="7.4" font-weight="bold" text-anchor="middle" textLength="17" lengthAdjust="spacingAndGlyphs">Days</text>
<polyline points="372.05,513.89 391.15,513.89 400.7,508.85 419.8,502.54 429.35,489.28 448.45,479.82 467.55,458.37 496.2,412.3 515.3,407.25" fill="none" stroke="#1a1a1a" stroke-width="0.95" stroke-linejoin="round"/>
<polyline points="372.05,512.25 391.15,508.21 400.7,471.62 419.8,440.07 429.35,414.83 448.45,421.14 467.55,441.33 496.2,487.01 515.3,493.07" fill="none" stroke="#1a1a1a" stroke-width="0.95" stroke-linejoin="round"/>
<polyline points="372.05,395.9 391.15,408.52 400.7,465.94 419.8,491.81 429.35,508.97 448.45,513.89 467.55,513.89 496.2,513.89 515.3,513.89" fill="none" stroke="#1a1a1a" stroke-width="0.95" stroke-linejoin="round"/>
<polyline points="372.05,505.06 391.15,495.22 400.7,477.93 419.8,493.07 429.35,509.85 448.45,513.89 467.55,513.89 496.2,513.89 515.3,513.89" fill="none" stroke="#1a1a1a" stroke-width="0.95" stroke-linejoin="round"/>
<polygon points="372.05,511.29 374.65,515.97 369.45,515.97" fill="#fff" stroke="#1a1a1a" stroke-width="0.9"/>
<polygon points="391.15,511.29 393.75,515.97 388.55,515.97" fill="#fff" stroke="#1a1a1a" stroke-width="0.9"/>
<polygon points="400.7,506.25 403.3,510.93 398.1,510.93" fill="#fff" stroke="#1a1a1a" stroke-width="0.9"/>
<polygon points="419.8,499.94 422.4,504.62 417.2,504.62" fill="#fff" stroke="#1a1a1a" stroke-width="0.9"/>
<polygon points="429.35,486.68 431.95,491.36 426.75,491.36" fill="#fff" stroke="#1a1a1a" stroke-width="0.9"/>
<polygon points="448.45,477.22 451.05,481.9 445.85,481.9" fill="#fff" stroke="#1a1a1a" stroke-width="0.9"/>
<polygon points="467.55,455.76 470.15,460.44 464.95,460.44" fill="#fff" stroke="#1a1a1a" stroke-width="0.9"/>
<polygon points="496.2,409.7 498.8,414.38 493.6,414.38" fill="#fff" stroke="#1a1a1a" stroke-width="0.9"/>
<polygon points="515.3,404.65 517.9,409.33 512.7,409.33" fill="#fff" stroke="#1a1a1a" stroke-width="0.9"/>
<rect x="369.8" y="510" width="4.5" height="4.5" fill="#fff" stroke="#1a1a1a" stroke-width="0.9"/>
<rect x="388.9" y="505.96" width="4.5" height="4.5" fill="#fff" stroke="#1a1a1a" stroke-width="0.9"/>
<rect x="398.45" y="469.37" width="4.5" height="4.5" fill="#fff" stroke="#1a1a1a" stroke-width="0.9"/>
<rect x="417.55" y="437.82" width="4.5" height="4.5" fill="#fff" stroke="#1a1a1a" stroke-width="0.9"/>
<rect x="427.1" y="412.58" width="4.5" height="4.5" fill="#fff" stroke="#1a1a1a" stroke-width="0.9"/>
<rect x="446.2" y="418.89" width="4.5" height="4.5" fill="#fff" stroke="#1a1a1a" stroke-width="0.9"/>
<rect x="465.3" y="439.08" width="4.5" height="4.5" fill="#fff" stroke="#1a1a1a" stroke-width="0.9"/>
<rect x="493.95" y="484.76" width="4.5" height="4.5" fill="#fff" stroke="#1a1a1a" stroke-width="0.9"/>
<rect x="513.05" y="490.82" width="4.5" height="4.5" fill="#fff" stroke="#1a1a1a" stroke-width="0.9"/>
<circle cx="372.05" cy="395.9" r="2.2" fill="#fff" stroke="#1a1a1a" stroke-width="0.9"/>
<circle cx="391.15" cy="408.52" r="2.2" fill="#fff" stroke="#1a1a1a" stroke-width="0.9"/>
<circle cx="400.7" cy="465.94" r="2.2" fill="#fff" stroke="#1a1a1a" stroke-width="0.9"/>
<circle cx="419.8" cy="491.81" r="2.2" fill="#fff" stroke="#1a1a1a" stroke-width="0.9"/>
<circle cx="429.35" cy="508.97" r="2.2" fill="#fff" stroke="#1a1a1a" stroke-width="0.9"/>
<circle cx="448.45" cy="513.89" r="2.2" fill="#fff" stroke="#1a1a1a" stroke-width="0.9"/>
<circle cx="467.55" cy="513.89" r="2.2" fill="#fff" stroke="#1a1a1a" stroke-width="0.9"/>
<circle cx="496.2" cy="513.89" r="2.2" fill="#fff" stroke="#1a1a1a" stroke-width="0.9"/>
<circle cx="515.3" cy="513.89" r="2.2" fill="#fff" stroke="#1a1a1a" stroke-width="0.9"/>
<circle cx="372.05" cy="505.06" r="2.5" fill="#000"/>
<circle cx="391.15" cy="495.22" r="2.5" fill="#000"/>
<circle cx="400.7" cy="477.93" r="2.5" fill="#000"/>
<circle cx="419.8" cy="493.07" r="2.5" fill="#000"/>
<circle cx="429.35" cy="509.85" r="2.5" fill="#000"/>
<circle cx="448.45" cy="513.89" r="2.5" fill="#000"/>
<circle cx="467.55" cy="513.89" r="2.5" fill="#000"/>
<circle cx="496.2" cy="513.89" r="2.5" fill="#000"/>
<circle cx="515.3" cy="513.89" r="2.5" fill="#000"/>
<rect x="54.6" y="566.3" width="356.6" height="14.5" rx="7.2" fill="#fff" stroke="#333" stroke-width="1"/>
<text x="75.2" y="576.9" font-size="9.4" font-weight="bold" textLength="292.4" lengthAdjust="spacingAndGlyphs">Unilineage G growth factors standard concentration + 10</text>
<text x="367.4" y="575.3" font-size="8.4" font-weight="bold" textLength="9.2" lengthAdjust="spacingAndGlyphs">&#8722;6</text>
<text x="378.6" y="576.9" font-size="9.4" font-weight="bold" textLength="26.6" lengthAdjust="spacingAndGlyphs">M RA</text>
<line x1="30" y1="587.8" x2="30" y2="708.4" stroke="#3a3a3a" stroke-width="1"/>
<line x1="28.6" y1="587.8" x2="30" y2="587.8" stroke="#3a3a3a" stroke-width="0.8"/>
<line x1="28.6" y1="611.88" x2="30" y2="611.88" stroke="#3a3a3a" stroke-width="0.8"/>
<line x1="28.6" y1="635.96" x2="30" y2="635.96" stroke="#3a3a3a" stroke-width="0.8"/>
<line x1="28.6" y1="660.04" x2="30" y2="660.04" stroke="#3a3a3a" stroke-width="0.8"/>
<line x1="28.6" y1="684.12" x2="30" y2="684.12" stroke="#3a3a3a" stroke-width="0.8"/>
<line x1="28.6" y1="708.2" x2="30" y2="708.2" stroke="#3a3a3a" stroke-width="0.8"/>
<text x="28.2" y="591" font-size="7.8" font-weight="bold" text-anchor="end">100</text>
<text x="28.2" y="615.6" font-size="7.8" font-weight="bold" text-anchor="end">80</text>
<text x="28.2" y="640" font-size="7.8" font-weight="bold" text-anchor="end">60</text>
<text x="28.2" y="664" font-size="7.8" font-weight="bold" text-anchor="end">40</text>
<text x="28.2" y="688" font-size="7.8" font-weight="bold" text-anchor="end">20</text>
<text x="28.2" y="712" font-size="7.8" font-weight="bold" text-anchor="end">0</text>
<text transform="translate(15.8,644) rotate(-90)" font-size="10.4" font-weight="bold" text-anchor="middle" textLength="68.3" lengthAdjust="spacingAndGlyphs">% of total cells</text>
<rect x="90.4" y="590.3" width="31.4" height="10" rx="4" fill="#fff" stroke="#333" stroke-width="1"/>
<text x="96.2" y="597.7" font-size="7.4" font-weight="bold" textLength="19.5" lengthAdjust="spacingAndGlyphs">GFP</text>
<line x1="45.1" y1="719.5" x2="193.3" y2="719.5" stroke="#3a3a3a" stroke-width="1"/>
<line x1="45.75" y1="719.5" x2="45.75" y2="721" stroke="#3a3a3a" stroke-width="0.8"/>
<line x1="55.5" y1="719.5" x2="55.5" y2="721" stroke="#3a3a3a" stroke-width="0.8"/>
<line x1="65.25" y1="719.5" x2="65.25" y2="721" stroke="#3a3a3a" stroke-width="0.8"/>
<line x1="75" y1="719.5" x2="75" y2="721" stroke="#3a3a3a" stroke-width="0.8"/>
<line x1="84.75" y1="719.5" x2="84.75" y2="721" stroke="#3a3a3a" stroke-width="0.8"/>
<line x1="94.5" y1="719.5" x2="94.5" y2="721" stroke="#3a3a3a" stroke-width="0.8"/>
<line x1="104.25" y1="719.5" x2="104.25" y2="721" stroke="#3a3a3a" stroke-width="0.8"/>
<line x1="114" y1="719.5" x2="114" y2="721" stroke="#3a3a3a" stroke-width="0.8"/>
<line x1="123.75" y1="719.5" x2="123.75" y2="721" stroke="#3a3a3a" stroke-width="0.8"/>
<line x1="133.5" y1="719.5" x2="133.5" y2="721" stroke="#3a3a3a" stroke-width="0.8"/>
<line x1="143.25" y1="719.5" x2="143.25" y2="721" stroke="#3a3a3a" stroke-width="0.8"/>
<line x1="153" y1="719.5" x2="153" y2="721" stroke="#3a3a3a" stroke-width="0.8"/>
<line x1="162.75" y1="719.5" x2="162.75" y2="721" stroke="#3a3a3a" stroke-width="0.8"/>
<line x1="172.5" y1="719.5" x2="172.5" y2="721" stroke="#3a3a3a" stroke-width="0.8"/>
<line x1="182.25" y1="719.5" x2="182.25" y2="721" stroke="#3a3a3a" stroke-width="0.8"/>
<line x1="192" y1="719.5" x2="192" y2="721" stroke="#3a3a3a" stroke-width="0.8"/>
<text x="43.7" y="730.3" font-size="7.8" font-weight="bold" text-anchor="middle">-1</text>
<text x="55.5" y="730.3" font-size="7.8" font-weight="bold" text-anchor="middle">0</text>
<text x="74.3" y="730.3" font-size="7.8" font-weight="bold" text-anchor="middle">2</text>
<text x="94" y="730.3" font-size="7.8" font-weight="bold" text-anchor="middle">4</text>
<text x="113.5" y="730.3" font-size="7.8" font-weight="bold" text-anchor="middle">6</text>
<text x="132.7" y="730.3" font-size="7.8" font-weight="bold" text-anchor="middle">8</text>
<text x="153.3" y="730.3" font-size="7.8" font-weight="bold" text-anchor="middle">10</text>
<text x="172.3" y="730.3" font-size="7.8" font-weight="bold" text-anchor="middle">12</text>
<text x="191.3" y="730.3" font-size="7.8" font-weight="bold" text-anchor="middle">14</text>
<text x="106" y="739.3" font-size="7.4" font-weight="bold" text-anchor="middle" textLength="17" lengthAdjust="spacingAndGlyphs">Days</text>
<polyline points="45.75,708.2 65.25,708.2 75,708.2 94.5,700.97 104.25,698.56 123.75,678.68 143.25,657.23 172.5,630.12 192,606.74" fill="none" stroke="#1a1a1a" stroke-width="0.95" stroke-linejoin="round"/>
<polyline points="45.75,707.6 65.25,707.84 75,707.84 94.5,643.73 104.25,631.32 123.75,619.03 143.25,641.44 172.5,667.83 192,689.88" fill="none" stroke="#1a1a1a" stroke-width="0.95" stroke-linejoin="round"/>
<polyline points="45.75,701.57 65.25,690.73 75,658.19 94.5,683.5 104.25,688.92 123.75,708.2 143.25,708.2 172.5,708.2 192,708.2" fill="none" stroke="#1a1a1a" stroke-width="0.95" stroke-linejoin="round"/>
<polyline points="45.75,597.34 65.25,607.58 75,640.24 94.5,685.91 104.25,694.34 123.75,707.6 143.25,708.2 172.5,708.2 192,708.2" fill="none" stroke="#1a1a1a" stroke-width="0.95" stroke-linejoin="round"/>
<polygon points="45.75,705.6 48.35,710.28 43.15,710.28" fill="#fff" stroke="#1a1a1a" stroke-width="0.9"/>
<polygon points="65.25,705.6 67.85,710.28 62.65,710.28" fill="#fff" stroke="#1a1a1a" stroke-width="0.9"/>
<polygon points="75,705.6 77.6,710.28 72.4,710.28" fill="#fff" stroke="#1a1a1a" stroke-width="0.9"/>
<polygon points="94.5,698.37 97.1,703.05 91.9,703.05" fill="#fff" stroke="#1a1a1a" stroke-width="0.9"/>
<polygon points="104.25,695.96 106.85,700.64 101.65,700.64" fill="#fff" stroke="#1a1a1a" stroke-width="0.9"/>
<polygon points="123.75,676.08 126.35,680.76 121.15,680.76" fill="#fff" stroke="#1a1a1a" stroke-width="0.9"/>
<polygon points="143.25,654.63 145.85,659.31 140.65,659.31" fill="#fff" stroke="#1a1a1a" stroke-width="0.9"/>
<polygon points="172.5,627.52 175.1,632.2 169.9,632.2" fill="#fff" stroke="#1a1a1a" stroke-width="0.9"/>
<polygon points="192,604.14 194.6,608.82 189.4,608.82" fill="#fff" stroke="#1a1a1a" stroke-width="0.9"/>
<rect x="43.5" y="705.35" width="4.5" height="4.5" fill="#fff" stroke="#1a1a1a" stroke-width="0.9"/>
<rect x="63" y="705.59" width="4.5" height="4.5" fill="#fff" stroke="#1a1a1a" stroke-width="0.9"/>
<rect x="72.75" y="705.59" width="4.5" height="4.5" fill="#fff" stroke="#1a1a1a" stroke-width="0.9"/>
<rect x="92.25" y="641.48" width="4.5" height="4.5" fill="#fff" stroke="#1a1a1a" stroke-width="0.9"/>
<rect x="102" y="629.07" width="4.5" height="4.5" fill="#fff" stroke="#1a1a1a" stroke-width="0.9"/>
<rect x="121.5" y="616.78" width="4.5" height="4.5" fill="#fff" stroke="#1a1a1a" stroke-width="0.9"/>
<rect x="141" y="639.19" width="4.5" height="4.5" fill="#fff" stroke="#1a1a1a" stroke-width="0.9"/>
<rect x="170.25" y="665.58" width="4.5" height="4.5" fill="#fff" stroke="#1a1a1a" stroke-width="0.9"/>
<rect x="189.75" y="687.63" width="4.5" height="4.5" fill="#fff" stroke="#1a1a1a" stroke-width="0.9"/>
<circle cx="45.75" cy="701.57" r="2.5" fill="#000"/>
<circle cx="65.25" cy="690.73" r="2.5" fill="#000"/>
<circle cx="75" cy="658.19" r="2.5" fill="#000"/>
<circle cx="94.5" cy="683.5" r="2.5" fill="#000"/>
<circle cx="104.25" cy="688.92" r="2.5" fill="#000"/>
<circle cx="123.75" cy="708.2" r="2.5" fill="#000"/>
<circle cx="143.25" cy="708.2" r="2.5" fill="#000"/>
<circle cx="172.5" cy="708.2" r="2.5" fill="#000"/>
<circle cx="192" cy="708.2" r="2.5" fill="#000"/>
<circle cx="45.75" cy="597.34" r="2.2" fill="#fff" stroke="#1a1a1a" stroke-width="0.9"/>
<circle cx="65.25" cy="607.58" r="2.2" fill="#fff" stroke="#1a1a1a" stroke-width="0.9"/>
<circle cx="75" cy="640.24" r="2.2" fill="#fff" stroke="#1a1a1a" stroke-width="0.9"/>
<circle cx="94.5" cy="685.91" r="2.2" fill="#fff" stroke="#1a1a1a" stroke-width="0.9"/>
<circle cx="104.25" cy="694.34" r="2.2" fill="#fff" stroke="#1a1a1a" stroke-width="0.9"/>
<circle cx="123.75" cy="707.6" r="2.0" fill="#fff" stroke="#1a1a1a" stroke-width="1.6"/>
<circle cx="143.25" cy="708.2" r="2.0" fill="#fff" stroke="#1a1a1a" stroke-width="1.6"/>
<circle cx="172.5" cy="708.2" r="2.0" fill="#fff" stroke="#1a1a1a" stroke-width="1.6"/>
<circle cx="192" cy="708.2" r="2.0" fill="#fff" stroke="#1a1a1a" stroke-width="1.6"/>
<rect x="274.6" y="589.6" width="52.9" height="10.9" rx="3.8" fill="#fff" stroke="#333" stroke-width="1"/>
<text x="278.1" y="598.1" font-size="7.8" font-weight="bold" textLength="41.9" lengthAdjust="spacingAndGlyphs">PML/RAR</text>
<text x="320.4" y="597.8" font-size="7.6" font-weight="bold" textLength="5.4" lengthAdjust="spacingAndGlyphs">&#945;</text>
<line x1="223.5" y1="719.5" x2="371" y2="719.5" stroke="#3a3a3a" stroke-width="1"/>
<line x1="223.92" y1="719.5" x2="223.92" y2="721" stroke="#3a3a3a" stroke-width="0.8"/>
<line x1="233.7" y1="719.5" x2="233.7" y2="721" stroke="#3a3a3a" stroke-width="0.8"/>
<line x1="243.48" y1="719.5" x2="243.48" y2="721" stroke="#3a3a3a" stroke-width="0.8"/>
<line x1="253.26" y1="719.5" x2="253.26" y2="721" stroke="#3a3a3a" stroke-width="0.8"/>
<line x1="263.04" y1="719.5" x2="263.04" y2="721" stroke="#3a3a3a" stroke-width="0.8"/>
<line x1="272.82" y1="719.5" x2="272.82" y2="721" stroke="#3a3a3a" stroke-width="0.8"/>
<line x1="282.6" y1="719.5" x2="282.6" y2="721" stroke="#3a3a3a" stroke-width="0.8"/>
<line x1="292.38" y1="719.5" x2="292.38" y2="721" stroke="#3a3a3a" stroke-width="0.8"/>
<line x1="302.16" y1="719.5" x2="302.16" y2="721" stroke="#3a3a3a" stroke-width="0.8"/>
<line x1="311.94" y1="719.5" x2="311.94" y2="721" stroke="#3a3a3a" stroke-width="0.8"/>
<line x1="321.72" y1="719.5" x2="321.72" y2="721" stroke="#3a3a3a" stroke-width="0.8"/>
<line x1="331.5" y1="719.5" x2="331.5" y2="721" stroke="#3a3a3a" stroke-width="0.8"/>
<line x1="341.28" y1="719.5" x2="341.28" y2="721" stroke="#3a3a3a" stroke-width="0.8"/>
<line x1="351.06" y1="719.5" x2="351.06" y2="721" stroke="#3a3a3a" stroke-width="0.8"/>
<line x1="360.84" y1="719.5" x2="360.84" y2="721" stroke="#3a3a3a" stroke-width="0.8"/>
<line x1="370.62" y1="719.5" x2="370.62" y2="721" stroke="#3a3a3a" stroke-width="0.8"/>
<text x="222.6" y="730.3" font-size="7.8" font-weight="bold" text-anchor="middle">-1</text>
<text x="234.2" y="730.3" font-size="7.8" font-weight="bold" text-anchor="middle">0</text>
<text x="253.3" y="730.3" font-size="7.8" font-weight="bold" text-anchor="middle">2</text>
<text x="272.7" y="730.3" font-size="7.8" font-weight="bold" text-anchor="middle">4</text>
<text x="291.7" y="730.3" font-size="7.8" font-weight="bold" text-anchor="middle">6</text>
<text x="311.7" y="730.3" font-size="7.8" font-weight="bold" text-anchor="middle">8</text>
<text x="331.5" y="730.3" font-size="7.8" font-weight="bold" text-anchor="middle">10</text>
<text x="351.2" y="730.3" font-size="7.8" font-weight="bold" text-anchor="middle">12</text>
<text x="370" y="730.3" font-size="7.8" font-weight="bold" text-anchor="middle">14</text>
<text x="284.4" y="739.3" font-size="7.4" font-weight="bold" text-anchor="middle" textLength="17" lengthAdjust="spacingAndGlyphs">Days</text>
<polyline points="223.92,708.2 243.48,708.2 253.26,705.79 272.82,697.36 282.6,670.24 302.16,648.43 321.72,633.49 351.06,616.62 370.62,604.21" fill="none" stroke="#1a1a1a" stroke-width="0.95" stroke-linejoin="round"/>
<polyline points="223.92,706.75 243.48,707.84 253.26,690.12 272.82,646.26 282.6,630.24 302.16,646.38 321.72,663.62 351.06,679.28 370.62,691.09" fill="none" stroke="#1a1a1a" stroke-width="0.95" stroke-linejoin="round"/>
<polyline points="223.92,597.34 243.48,610.6 253.26,644.94 272.82,685.79 282.6,703.14 302.16,708.2 324.65,708.2 351.06,708.2 370.62,708.2" fill="none" stroke="#1a1a1a" stroke-width="0.95" stroke-linejoin="round"/>
<polyline points="223.92,700.01 243.48,689.04 253.26,684.58 272.82,681.09 282.6,698.56 302.16,708.2 324.65,708.2 351.06,708.2 370.62,708.2" fill="none" stroke="#1a1a1a" stroke-width="0.95" stroke-linejoin="round"/>
<polygon points="223.92,705.6 226.52,710.28 221.32,710.28" fill="#fff" stroke="#1a1a1a" stroke-width="0.9"/>
<polygon points="243.48,705.6 246.08,710.28 240.88,710.28" fill="#fff" stroke="#1a1a1a" stroke-width="0.9"/>
<polygon points="253.26,703.19 255.86,707.87 250.66,707.87" fill="#fff" stroke="#1a1a1a" stroke-width="0.9"/>
<polygon points="272.82,694.75 275.42,699.44 270.22,699.44" fill="#fff" stroke="#1a1a1a" stroke-width="0.9"/>
<polygon points="282.6,667.64 285.2,672.32 280,672.32" fill="#fff" stroke="#1a1a1a" stroke-width="0.9"/>
<polygon points="302.16,645.83 304.76,650.51 299.56,650.51" fill="#fff" stroke="#1a1a1a" stroke-width="0.9"/>
<polygon points="321.72,630.89 324.32,635.57 319.12,635.57" fill="#fff" stroke="#1a1a1a" stroke-width="0.9"/>
<polygon points="351.06,614.02 353.66,618.7 348.46,618.7" fill="#fff" stroke="#1a1a1a" stroke-width="0.9"/>
<polygon points="370.62,601.61 373.22,606.29 368.02,606.29" fill="#fff" stroke="#1a1a1a" stroke-width="0.9"/>
<rect x="221.67" y="704.5" width="4.5" height="4.5" fill="#fff" stroke="#1a1a1a" stroke-width="0.9"/>
<rect x="241.23" y="705.59" width="4.5" height="4.5" fill="#fff" stroke="#1a1a1a" stroke-width="0.9"/>
<rect x="251.01" y="687.88" width="4.5" height="4.5" fill="#fff" stroke="#1a1a1a" stroke-width="0.9"/>
<rect x="270.57" y="644.01" width="4.5" height="4.5" fill="#fff" stroke="#1a1a1a" stroke-width="0.9"/>
<rect x="280.35" y="627.99" width="4.5" height="4.5" fill="#fff" stroke="#1a1a1a" stroke-width="0.9"/>
<rect x="299.91" y="644.13" width="4.5" height="4.5" fill="#fff" stroke="#1a1a1a" stroke-width="0.9"/>
<rect x="319.47" y="661.37" width="4.5" height="4.5" fill="#fff" stroke="#1a1a1a" stroke-width="0.9"/>
<rect x="348.81" y="677.03" width="4.5" height="4.5" fill="#fff" stroke="#1a1a1a" stroke-width="0.9"/>
<rect x="368.37" y="688.84" width="4.5" height="4.5" fill="#fff" stroke="#1a1a1a" stroke-width="0.9"/>
<circle cx="223.92" cy="597.34" r="2.2" fill="#fff" stroke="#1a1a1a" stroke-width="0.9"/>
<circle cx="243.48" cy="610.6" r="2.2" fill="#fff" stroke="#1a1a1a" stroke-width="0.9"/>
<circle cx="253.26" cy="644.94" r="2.2" fill="#fff" stroke="#1a1a1a" stroke-width="0.9"/>
<circle cx="272.82" cy="685.79" r="2.2" fill="#fff" stroke="#1a1a1a" stroke-width="0.9"/>
<circle cx="282.6" cy="703.14" r="2.2" fill="#fff" stroke="#1a1a1a" stroke-width="0.9"/>
<circle cx="302.16" cy="708.2" r="2.2" fill="#fff" stroke="#1a1a1a" stroke-width="0.9"/>
<circle cx="324.65" cy="708.2" r="2.2" fill="#fff" stroke="#1a1a1a" stroke-width="0.9"/>
<circle cx="351.06" cy="708.2" r="2.2" fill="#fff" stroke="#1a1a1a" stroke-width="0.9"/>
<circle cx="370.62" cy="708.2" r="2.2" fill="#fff" stroke="#1a1a1a" stroke-width="0.9"/>
<circle cx="223.92" cy="700.01" r="2.5" fill="#000"/>
<circle cx="243.48" cy="689.04" r="2.5" fill="#000"/>
<circle cx="253.26" cy="684.58" r="2.5" fill="#000"/>
<circle cx="272.82" cy="681.09" r="2.5" fill="#000"/>
<circle cx="282.6" cy="698.56" r="2.5" fill="#000"/>
<circle cx="302.16" cy="708.2" r="2.5" fill="#000"/>
<circle cx="324.65" cy="708.2" r="2.5" fill="#000"/>
<circle cx="351.06" cy="708.2" r="2.5" fill="#000"/>
<circle cx="370.62" cy="708.2" r="2.5" fill="#000"/>
<rect x="81.3" y="762.2" width="239.2" height="12.3" rx="6.2" fill="#fff" stroke="#333" stroke-width="1"/>
<text x="90" y="771.4" font-size="9.3" font-weight="bold" textLength="223.7" lengthAdjust="spacingAndGlyphs">Unilineage G growth factors 1 : 100 dilution</text>
<line x1="32.7" y1="781.7" x2="32.7" y2="902" stroke="#3a3a3a" stroke-width="1"/>
<line x1="31.3" y1="781.7" x2="32.7" y2="781.7" stroke="#3a3a3a" stroke-width="0.8"/>
<line x1="31.3" y1="805.76" x2="32.7" y2="805.76" stroke="#3a3a3a" stroke-width="0.8"/>
<line x1="31.3" y1="829.82" x2="32.7" y2="829.82" stroke="#3a3a3a" stroke-width="0.8"/>
<line x1="31.3" y1="853.88" x2="32.7" y2="853.88" stroke="#3a3a3a" stroke-width="0.8"/>
<line x1="31.3" y1="877.94" x2="32.7" y2="877.94" stroke="#3a3a3a" stroke-width="0.8"/>
<line x1="31.3" y1="902" x2="32.7" y2="902" stroke="#3a3a3a" stroke-width="0.8"/>
<text x="29.6" y="785" font-size="7.8" font-weight="bold" text-anchor="end">100</text>
<text x="29.6" y="808" font-size="7.8" font-weight="bold" text-anchor="end">80</text>
<text x="29.6" y="832.1" font-size="7.8" font-weight="bold" text-anchor="end">60</text>
<text x="29.6" y="856.2" font-size="7.8" font-weight="bold" text-anchor="end">40</text>
<text x="29.6" y="880.2" font-size="7.8" font-weight="bold" text-anchor="end">20</text>
<text x="29.6" y="904.3" font-size="7.8" font-weight="bold" text-anchor="end">0</text>
<text transform="translate(17.8,842.8) rotate(-90)" font-size="10.4" font-weight="bold" text-anchor="middle" textLength="68.3" lengthAdjust="spacingAndGlyphs">% of total cells</text>
<rect x="89.6" y="785.2" width="31.1" height="8.2" rx="3.5" fill="#fff" stroke="#333" stroke-width="1"/>
<text x="94.5" y="791.8" font-size="7.6" font-weight="bold" textLength="20" lengthAdjust="spacingAndGlyphs">GFP</text>
<line x1="48" y1="913.2" x2="195.1" y2="913.2" stroke="#3a3a3a" stroke-width="1"/>
<line x1="47.92" y1="913.2" x2="47.92" y2="914.7" stroke="#3a3a3a" stroke-width="0.8"/>
<line x1="57.7" y1="913.2" x2="57.7" y2="914.7" stroke="#3a3a3a" stroke-width="0.8"/>
<line x1="67.48" y1="913.2" x2="67.48" y2="914.7" stroke="#3a3a3a" stroke-width="0.8"/>
<line x1="77.26" y1="913.2" x2="77.26" y2="914.7" stroke="#3a3a3a" stroke-width="0.8"/>
<line x1="87.04" y1="913.2" x2="87.04" y2="914.7" stroke="#3a3a3a" stroke-width="0.8"/>
<line x1="96.82" y1="913.2" x2="96.82" y2="914.7" stroke="#3a3a3a" stroke-width="0.8"/>
<line x1="106.6" y1="913.2" x2="106.6" y2="914.7" stroke="#3a3a3a" stroke-width="0.8"/>
<line x1="116.38" y1="913.2" x2="116.38" y2="914.7" stroke="#3a3a3a" stroke-width="0.8"/>
<line x1="126.16" y1="913.2" x2="126.16" y2="914.7" stroke="#3a3a3a" stroke-width="0.8"/>
<line x1="135.94" y1="913.2" x2="135.94" y2="914.7" stroke="#3a3a3a" stroke-width="0.8"/>
<line x1="145.72" y1="913.2" x2="145.72" y2="914.7" stroke="#3a3a3a" stroke-width="0.8"/>
<line x1="155.5" y1="913.2" x2="155.5" y2="914.7" stroke="#3a3a3a" stroke-width="0.8"/>
<line x1="165.28" y1="913.2" x2="165.28" y2="914.7" stroke="#3a3a3a" stroke-width="0.8"/>
<line x1="175.06" y1="913.2" x2="175.06" y2="914.7" stroke="#3a3a3a" stroke-width="0.8"/>
<line x1="184.84" y1="913.2" x2="184.84" y2="914.7" stroke="#3a3a3a" stroke-width="0.8"/>
<line x1="194.62" y1="913.2" x2="194.62" y2="914.7" stroke="#3a3a3a" stroke-width="0.8"/>
<text x="45.4" y="924.5" font-size="8.5" font-weight="bold" text-anchor="middle" textLength="6.25" lengthAdjust="spacingAndGlyphs">-1</text>
<text x="57.1" y="924.5" font-size="8.5" font-weight="bold" text-anchor="middle" textLength="4.45" lengthAdjust="spacingAndGlyphs">0</text>
<text x="76.9" y="924.5" font-size="8.5" font-weight="bold" text-anchor="middle" textLength="4.45" lengthAdjust="spacingAndGlyphs">2</text>
<text x="96.4" y="924.5" font-size="8.5" font-weight="bold" text-anchor="middle" textLength="4.45" lengthAdjust="spacingAndGlyphs">4</text>
<text x="115.8" y="924.5" font-size="8.5" font-weight="bold" text-anchor="middle" textLength="4.45" lengthAdjust="spacingAndGlyphs">6</text>
<text x="135.5" y="924.5" font-size="8.5" font-weight="bold" text-anchor="middle" textLength="4.45" lengthAdjust="spacingAndGlyphs">8</text>
<text x="155.2" y="924.5" font-size="8.5" font-weight="bold" text-anchor="middle" textLength="8.9" lengthAdjust="spacingAndGlyphs">10</text>
<text x="174.6" y="924.5" font-size="8.5" font-weight="bold" text-anchor="middle" textLength="8.9" lengthAdjust="spacingAndGlyphs">12</text>
<text x="194.3" y="924.5" font-size="8.5" font-weight="bold" text-anchor="middle" textLength="8.9" lengthAdjust="spacingAndGlyphs">14</text>
<text x="109" y="933.8" font-size="7.4" font-weight="bold" text-anchor="middle" textLength="17" lengthAdjust="spacingAndGlyphs">Days</text>
<polyline points="47.92,902 67.48,902.36 96.82,890.43 145.72,841.75 194.62,815.24" fill="none" stroke="#1a1a1a" stroke-width="0.95" stroke-linejoin="round"/>
<polyline points="47.92,901.4 67.48,902 96.82,875.49 145.72,862.24 194.62,868.26" fill="none" stroke="#1a1a1a" stroke-width="0.95" stroke-linejoin="round"/>
<polyline points="47.92,789.93 67.48,810.42 96.82,847.77 145.72,894.89 194.62,902" fill="none" stroke="#1a1a1a" stroke-width="0.95" stroke-linejoin="round"/>
<polyline points="47.92,894.77 67.48,873.08 96.82,894.17 145.72,889.95 194.62,902" fill="none" stroke="#1a1a1a" stroke-width="0.95" stroke-linejoin="round"/>
<polygon points="47.92,899.4 50.52,904.08 45.32,904.08" fill="#fff" stroke="#1a1a1a" stroke-width="0.9"/>
<polygon points="67.48,899.76 70.08,904.44 64.88,904.44" fill="#fff" stroke="#1a1a1a" stroke-width="0.9"/>
<polygon points="96.82,887.83 99.42,892.51 94.22,892.51" fill="#fff" stroke="#1a1a1a" stroke-width="0.9"/>
<polygon points="145.72,839.15 148.32,843.83 143.12,843.83" fill="#fff" stroke="#1a1a1a" stroke-width="0.9"/>
<polygon points="194.62,812.64 197.22,817.32 192.02,817.32" fill="#fff" stroke="#1a1a1a" stroke-width="0.9"/>
<rect x="45.67" y="899.15" width="4.5" height="4.5" fill="#fff" stroke="#1a1a1a" stroke-width="0.9"/>
<rect x="65.23" y="899.75" width="4.5" height="4.5" fill="#fff" stroke="#1a1a1a" stroke-width="0.9"/>
<rect x="94.57" y="873.24" width="4.5" height="4.5" fill="#fff" stroke="#1a1a1a" stroke-width="0.9"/>
<rect x="143.47" y="859.99" width="4.5" height="4.5" fill="#fff" stroke="#1a1a1a" stroke-width="0.9"/>
<rect x="192.37" y="866.01" width="4.5" height="4.5" fill="#fff" stroke="#1a1a1a" stroke-width="0.9"/>
<circle cx="47.92" cy="789.93" r="2.2" fill="#fff" stroke="#1a1a1a" stroke-width="0.9"/>
<circle cx="67.48" cy="810.42" r="2.2" fill="#fff" stroke="#1a1a1a" stroke-width="0.9"/>
<circle cx="96.82" cy="847.77" r="2.2" fill="#fff" stroke="#1a1a1a" stroke-width="0.9"/>
<circle cx="145.72" cy="894.89" r="2.2" fill="#fff" stroke="#1a1a1a" stroke-width="0.9"/>
<circle cx="194.62" cy="902" r="2.2" fill="#fff" stroke="#1a1a1a" stroke-width="0.9"/>
<circle cx="47.92" cy="894.77" r="2.5" fill="#000"/>
<circle cx="67.48" cy="873.08" r="2.5" fill="#000"/>
<circle cx="96.82" cy="894.17" r="2.5" fill="#000"/>
<circle cx="145.72" cy="889.95" r="2.5" fill="#000"/>
<circle cx="194.62" cy="902" r="2.5" fill="#000"/>
<rect x="273.6" y="783.7" width="52.5" height="10.4" rx="3.8" fill="#fff" stroke="#333" stroke-width="1"/>
<text x="276.5" y="791.4" font-size="7.4" font-weight="bold" textLength="42.1" lengthAdjust="spacingAndGlyphs">PML/RAR</text>
<text x="319.4" y="791.6" font-size="7.4" font-weight="bold" textLength="5.4" lengthAdjust="spacingAndGlyphs">&#945;</text>
<line x1="225.5" y1="912.9" x2="372.4" y2="912.9" stroke="#3a3a3a" stroke-width="1"/>
<line x1="225.7" y1="912.9" x2="225.7" y2="914.4" stroke="#3a3a3a" stroke-width="0.8"/>
<line x1="235.5" y1="912.9" x2="235.5" y2="914.4" stroke="#3a3a3a" stroke-width="0.8"/>
<line x1="245.3" y1="912.9" x2="245.3" y2="914.4" stroke="#3a3a3a" stroke-width="0.8"/>
<line x1="255.1" y1="912.9" x2="255.1" y2="914.4" stroke="#3a3a3a" stroke-width="0.8"/>
<line x1="264.9" y1="912.9" x2="264.9" y2="914.4" stroke="#3a3a3a" stroke-width="0.8"/>
<line x1="274.7" y1="912.9" x2="274.7" y2="914.4" stroke="#3a3a3a" stroke-width="0.8"/>
<line x1="284.5" y1="912.9" x2="284.5" y2="914.4" stroke="#3a3a3a" stroke-width="0.8"/>
<line x1="294.3" y1="912.9" x2="294.3" y2="914.4" stroke="#3a3a3a" stroke-width="0.8"/>
<line x1="304.1" y1="912.9" x2="304.1" y2="914.4" stroke="#3a3a3a" stroke-width="0.8"/>
<line x1="313.9" y1="912.9" x2="313.9" y2="914.4" stroke="#3a3a3a" stroke-width="0.8"/>
<line x1="323.7" y1="912.9" x2="323.7" y2="914.4" stroke="#3a3a3a" stroke-width="0.8"/>
<line x1="333.5" y1="912.9" x2="333.5" y2="914.4" stroke="#3a3a3a" stroke-width="0.8"/>
<line x1="343.3" y1="912.9" x2="343.3" y2="914.4" stroke="#3a3a3a" stroke-width="0.8"/>
<line x1="353.1" y1="912.9" x2="353.1" y2="914.4" stroke="#3a3a3a" stroke-width="0.8"/>
<line x1="362.9" y1="912.9" x2="362.9" y2="914.4" stroke="#3a3a3a" stroke-width="0.8"/>
<line x1="372.7" y1="912.9" x2="372.7" y2="914.4" stroke="#3a3a3a" stroke-width="0.8"/>
<text x="225" y="923.7" font-size="8.5" font-weight="bold" text-anchor="middle" textLength="6.25" lengthAdjust="spacingAndGlyphs">-1</text>
<text x="235.7" y="923.7" font-size="8.5" font-weight="bold" text-anchor="middle" textLength="4.45" lengthAdjust="spacingAndGlyphs">0</text>
<text x="255" y="923.7" font-size="8.5" font-weight="bold" text-anchor="middle" textLength="4.45" lengthAdjust="spacingAndGlyphs">2</text>
<text x="275" y="923.7" font-size="8.5" font-weight="bold" text-anchor="middle" textLength="4.45" lengthAdjust="spacingAndGlyphs">4</text>
<text x="294.7" y="923.7" font-size="8.5" font-weight="bold" text-anchor="middle" textLength="4.45" lengthAdjust="spacingAndGlyphs">6</text>
<text x="313.8" y="923.7" font-size="8.5" font-weight="bold" text-anchor="middle" textLength="4.45" lengthAdjust="spacingAndGlyphs">8</text>
<text x="334.3" y="923.7" font-size="8.5" font-weight="bold" text-anchor="middle" textLength="8.9" lengthAdjust="spacingAndGlyphs">10</text>
<text x="352.6" y="923.7" font-size="8.5" font-weight="bold" text-anchor="middle" textLength="8.9" lengthAdjust="spacingAndGlyphs">12</text>
<text x="371.3" y="923.7" font-size="8.5" font-weight="bold" text-anchor="middle" textLength="8.9" lengthAdjust="spacingAndGlyphs">14</text>
<text x="288" y="932.7" font-size="7.4" font-weight="bold" text-anchor="middle" textLength="17" lengthAdjust="spacingAndGlyphs">Days</text>
<polyline points="225.7,902 245.3,902 274.7,902.36 323.7,890.19 372.7,855.85" fill="none" stroke="#1a1a1a" stroke-width="0.95" stroke-linejoin="round"/>
<polyline points="225.7,902 245.3,902.36 274.7,878.26 323.7,854.4 372.7,859.95" fill="none" stroke="#1a1a1a" stroke-width="0.95" stroke-linejoin="round"/>
<polyline points="225.7,790.06 245.3,852.72 274.7,885.25 323.7,901.16 372.7,902" fill="none" stroke="#1a1a1a" stroke-width="0.95" stroke-linejoin="round"/>
<polyline points="225.7,894.65 245.3,831.15 274.7,828.98 323.7,843.2 372.7,871.15" fill="none" stroke="#1a1a1a" stroke-width="0.95" stroke-linejoin="round"/>
<polygon points="225.7,899.4 228.3,904.08 223.1,904.08" fill="#fff" stroke="#1a1a1a" stroke-width="0.9"/>
<polygon points="245.3,899.4 247.9,904.08 242.7,904.08" fill="#fff" stroke="#1a1a1a" stroke-width="0.9"/>
<polygon points="274.7,899.76 277.3,904.44 272.1,904.44" fill="#fff" stroke="#1a1a1a" stroke-width="0.9"/>
<polygon points="323.7,887.59 326.3,892.27 321.1,892.27" fill="#fff" stroke="#1a1a1a" stroke-width="0.9"/>
<polygon points="372.7,853.25 375.3,857.93 370.1,857.93" fill="#fff" stroke="#1a1a1a" stroke-width="0.9"/>
<rect x="223.45" y="899.75" width="4.5" height="4.5" fill="#fff" stroke="#1a1a1a" stroke-width="0.9"/>
<rect x="243.05" y="900.11" width="4.5" height="4.5" fill="#fff" stroke="#1a1a1a" stroke-width="0.9"/>
<rect x="272.45" y="876.01" width="4.5" height="4.5" fill="#fff" stroke="#1a1a1a" stroke-width="0.9"/>
<rect x="321.45" y="852.15" width="4.5" height="4.5" fill="#fff" stroke="#1a1a1a" stroke-width="0.9"/>
<rect x="370.45" y="857.7" width="4.5" height="4.5" fill="#fff" stroke="#1a1a1a" stroke-width="0.9"/>
<circle cx="225.7" cy="790.06" r="2.2" fill="#fff" stroke="#1a1a1a" stroke-width="0.9"/>
<circle cx="245.3" cy="852.72" r="2.2" fill="#fff" stroke="#1a1a1a" stroke-width="0.9"/>
<circle cx="274.7" cy="885.25" r="2.2" fill="#fff" stroke="#1a1a1a" stroke-width="0.9"/>
<circle cx="323.7" cy="901.16" r="2.2" fill="#fff" stroke="#1a1a1a" stroke-width="0.9"/>
<circle cx="372.7" cy="902" r="2.2" fill="#fff" stroke="#1a1a1a" stroke-width="0.9"/>
<circle cx="225.7" cy="894.65" r="2.5" fill="#000"/>
<circle cx="245.3" cy="831.15" r="2.5" fill="#000"/>
<circle cx="274.7" cy="828.98" r="2.5" fill="#000"/>
<circle cx="323.7" cy="843.2" r="2.5" fill="#000"/>
<circle cx="372.7" cy="871.15" r="2.5" fill="#000"/>
</g>
</svg>
</body></html>
